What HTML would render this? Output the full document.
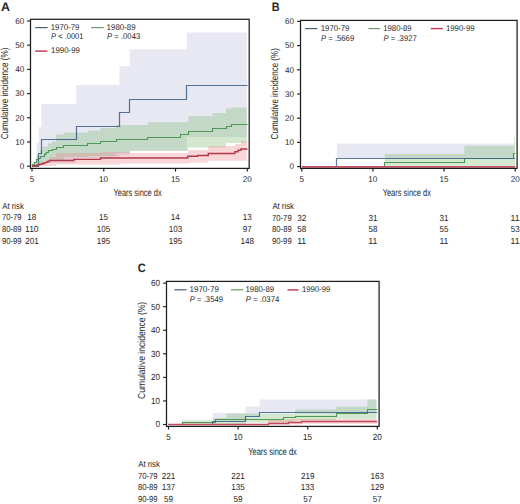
<!DOCTYPE html>
<html><head><meta charset="utf-8"><title>Cumulative incidence</title>
<style>html,body{margin:0;padding:0;background:#fff;overflow:hidden;}svg{display:block;}</style>
</head><body>
<svg width="520" height="504" viewBox="0 0 520 504" text-rendering="geometricPrecision" font-family='"Liberation Sans", sans-serif' fill="#262626">
<rect width="520" height="504" fill="#ffffff"/>
<path d="M32.00 166.10H36.50V143.00H38.70V127.00H41.40V104.10H76.40V85.00H119.50V66.20H129.70V49.20H186.80V32.50H246.80V137.00H186.80V150.50H129.70V155.00H119.50V158.00H76.40V163.00H41.30V166.10H32.00Z" fill="rgb(232,232,243)"/>
<path d="M32.00 166.00H33.50V162.00H36.50V155.00H40.00V150.00H42.70V146.50H48.00V143.50H52.00V141.50H56.00V134.50H64.00V132.60H88.00V130.60H100.50V127.90H116.30V125.00H147.70V122.20H188.50V116.00H212.50V113.00H226.00V108.50H231.60V107.50H246.80V143.00H226.00V147.50H188.00V151.00H130.00V153.00H116.00V156.00H88.00V157.00H64.00V160.50H50.00V163.00H41.00V164.50H36.00V166.00H32.00Z" fill="rgb(121,184,108)" fill-opacity="0.33"/>
<path d="M32.00 166.00H36.00V164.00H40.00V162.00H46.00V160.00H49.30V157.00H56.00V153.00H100.50V152.00H130.00V153.00H188.00V150.00H208.30V146.00H235.00V144.00H241.00V141.00H246.80V160.80H208.30V162.50H190.00V163.50H120.00V164.50H56.00V166.00H32.00Z" fill="rgb(237,130,135)" fill-opacity="0.33"/>
<path d="M32.00 166.50H32.50V164.50H34.50V162.50H36.50V159.50H38.50V158.50H40.50V156.50H42.50V156.50H44.50V154.50H45.50V153.50H46.50V152.50H48.50V150.50H52.50V149.50H56.50V147.50H63.50V145.50H87.50V143.50H100.50V141.50H116.50V139.50H147.50V137.50H180.50V134.50H188.50V131.50H212.50V128.50H226.50V126.50H231.50V124.50H247.50" fill="none" stroke="rgb(80,152,86)" stroke-width="1.15"/>
<path d="M32.00 166.50H38.50V153.50H41.50V139.50H76.50V126.50H119.50V112.50H129.50V99.50H186.50V85.50H247.50" fill="none" stroke="rgb(48,80,128)" stroke-width="1.2" stroke-opacity="0.8"/>
<path d="M32.00 166.10H34.00V165.70H36.50V165.00H39.00V164.40H42.00V163.50H44.50V162.60H47.00V161.60H49.30V160.50H73.70V159.40H100.50V158.00H187.70V156.20H197.50V155.50H208.30V153.50H234.80V151.70H238.00V150.20H241.00V149.00H247.50" fill="none" stroke="rgb(176,58,72)" stroke-width="1.4"/>
<rect x="30.5" y="19.3" width="218.7" height="149.1" fill="none" stroke="#1e1e1e" stroke-width="1.25"/>
<line x1="27.10" y1="166.20" x2="30.5" y2="166.20" stroke="#1e1e1e" stroke-width="1.15"/>
<text x="19.71" y="168.95" font-size="8.4" textLength="4.50" lengthAdjust="spacingAndGlyphs">0</text>
<line x1="27.10" y1="142.00" x2="30.5" y2="142.00" stroke="#1e1e1e" stroke-width="1.15"/>
<text x="15.21" y="144.75" font-size="8.4" textLength="9.01" lengthAdjust="spacingAndGlyphs">10</text>
<line x1="27.10" y1="117.80" x2="30.5" y2="117.80" stroke="#1e1e1e" stroke-width="1.15"/>
<text x="15.21" y="120.55" font-size="8.4" textLength="9.01" lengthAdjust="spacingAndGlyphs">20</text>
<line x1="27.10" y1="93.60" x2="30.5" y2="93.60" stroke="#1e1e1e" stroke-width="1.15"/>
<text x="15.21" y="96.35" font-size="8.4" textLength="9.01" lengthAdjust="spacingAndGlyphs">30</text>
<line x1="27.10" y1="69.40" x2="30.5" y2="69.40" stroke="#1e1e1e" stroke-width="1.15"/>
<text x="15.21" y="72.15" font-size="8.4" textLength="9.01" lengthAdjust="spacingAndGlyphs">40</text>
<line x1="27.10" y1="45.20" x2="30.5" y2="45.20" stroke="#1e1e1e" stroke-width="1.15"/>
<text x="15.21" y="47.95" font-size="8.4" textLength="9.01" lengthAdjust="spacingAndGlyphs">50</text>
<line x1="27.10" y1="21.00" x2="30.5" y2="21.00" stroke="#1e1e1e" stroke-width="1.15"/>
<text x="15.21" y="23.75" font-size="8.4" textLength="9.01" lengthAdjust="spacingAndGlyphs">60</text>
<line x1="32.00" y1="168.4" x2="32.00" y2="171.60" stroke="#1e1e1e" stroke-width="1.15"/>
<text x="29.76" y="181.70" font-size="8.4" textLength="4.50" lengthAdjust="spacingAndGlyphs">5</text>
<line x1="103.77" y1="168.4" x2="103.77" y2="171.60" stroke="#1e1e1e" stroke-width="1.15"/>
<text x="99.11" y="181.70" font-size="8.4" textLength="9.01" lengthAdjust="spacingAndGlyphs">10</text>
<line x1="175.53" y1="168.4" x2="175.53" y2="171.60" stroke="#1e1e1e" stroke-width="1.15"/>
<text x="170.89" y="181.70" font-size="8.4" textLength="9.01" lengthAdjust="spacingAndGlyphs">15</text>
<line x1="247.30" y1="168.4" x2="247.30" y2="171.60" stroke="#1e1e1e" stroke-width="1.15"/>
<text x="242.75" y="181.70" font-size="8.4" textLength="9.01" lengthAdjust="spacingAndGlyphs">20</text>
<text x="113.44" y="195.90" font-size="10.2" textLength="48.24" lengthAdjust="spacingAndGlyphs">Years since dx</text>
<text transform="rotate(-90)" x="-139.31" y="8.40" font-size="10.2" textLength="91.71" lengthAdjust="spacingAndGlyphs">Cumulative incidence (%)</text>
<text x="1.14" y="10.65" font-size="12.2" font-weight="bold" textLength="8.99" lengthAdjust="spacingAndGlyphs">A</text>
<line x1="35.2" y1="27.6" x2="47.6" y2="27.6" stroke="#4a5a7a" stroke-width="1.2"/>
<line x1="91.2" y1="27.6" x2="103.8" y2="27.6" stroke="#6a9a6a" stroke-width="1.2"/>
<line x1="35.2" y1="51.1" x2="47.4" y2="51.1" stroke="#c0405a" stroke-width="1.5"/>
<text x="50.70" y="29.70" font-size="8.4" textLength="28.77" lengthAdjust="spacingAndGlyphs">1970-79</text>
<text x="51.07" y="39.10" font-size="8.4" textLength="32.40" lengthAdjust="spacingAndGlyphs"><tspan font-style="italic">P</tspan> &lt; .0001</text>
<text x="106.60" y="29.70" font-size="8.4" textLength="29.08" lengthAdjust="spacingAndGlyphs">1980-89</text>
<text x="106.96" y="39.10" font-size="8.4" textLength="33.28" lengthAdjust="spacingAndGlyphs"><tspan font-style="italic">P</tspan> = .0043</text>
<text x="51.10" y="53.10" font-size="8.4" textLength="28.77" lengthAdjust="spacingAndGlyphs">1990-99</text>
<text x="2.28" y="208.90" font-size="8.8" textLength="21.50" lengthAdjust="spacingAndGlyphs">At risk</text>
<text x="1.91" y="220.30" font-size="8.8" textLength="19.66" lengthAdjust="spacingAndGlyphs">70-79</text>
<text x="27.36" y="220.30" font-size="8.8" textLength="9.01" lengthAdjust="spacingAndGlyphs">18</text>
<text x="99.12" y="220.30" font-size="8.8" textLength="9.01" lengthAdjust="spacingAndGlyphs">15</text>
<text x="170.84" y="220.30" font-size="8.8" textLength="9.01" lengthAdjust="spacingAndGlyphs">14</text>
<text x="242.66" y="220.30" font-size="8.8" textLength="9.01" lengthAdjust="spacingAndGlyphs">13</text>
<text x="1.97" y="231.70" font-size="8.8" textLength="19.60" lengthAdjust="spacingAndGlyphs">80-89</text>
<text x="25.09" y="231.70" font-size="8.8" textLength="13.51" lengthAdjust="spacingAndGlyphs">110</text>
<text x="96.87" y="231.70" font-size="8.8" textLength="13.51" lengthAdjust="spacingAndGlyphs">105</text>
<text x="168.65" y="231.70" font-size="8.8" textLength="13.51" lengthAdjust="spacingAndGlyphs">103</text>
<text x="242.81" y="231.70" font-size="8.8" textLength="9.01" lengthAdjust="spacingAndGlyphs">97</text>
<text x="1.94" y="244.20" font-size="8.8" textLength="19.62" lengthAdjust="spacingAndGlyphs">90-99</text>
<text x="25.24" y="244.20" font-size="8.8" textLength="13.51" lengthAdjust="spacingAndGlyphs">201</text>
<text x="96.87" y="244.20" font-size="8.8" textLength="13.51" lengthAdjust="spacingAndGlyphs">195</text>
<text x="168.64" y="244.20" font-size="8.8" textLength="13.51" lengthAdjust="spacingAndGlyphs">195</text>
<text x="240.41" y="244.20" font-size="8.8" textLength="13.51" lengthAdjust="spacingAndGlyphs">148</text>
<path d="M336.80 143.60H514.30V158.80H336.80Z" fill="rgb(232,232,243)"/>
<path d="M384.80 153.90H464.20V145.80H514.00V137.00H515.00V165.80H384.80Z" fill="rgb(121,184,108)" fill-opacity="0.33"/>
<path d="M301.80 166.50H384.50V162.50H464.50V158.50H513.50V153.50H515.20" fill="none" stroke="rgb(80,152,86)" stroke-width="1.15"/>
<path d="M301.80 166.50H336.50V158.50H515.20" fill="none" stroke="rgb(52,92,142)" stroke-width="1.2" stroke-opacity="0.8"/>
<path d="M302.00 166.90H515.20" fill="none" stroke="rgb(196,78,98)" stroke-width="1.6"/>
<rect x="300.5" y="20.4" width="216.60000000000002" height="148.0" fill="none" stroke="#1e1e1e" stroke-width="1.25"/>
<line x1="297.10" y1="166.60" x2="300.5" y2="166.60" stroke="#1e1e1e" stroke-width="1.15"/>
<text x="289.61" y="169.35" font-size="8.4" textLength="4.50" lengthAdjust="spacingAndGlyphs">0</text>
<line x1="297.10" y1="142.40" x2="300.5" y2="142.40" stroke="#1e1e1e" stroke-width="1.15"/>
<text x="285.11" y="145.15" font-size="8.4" textLength="9.01" lengthAdjust="spacingAndGlyphs">10</text>
<line x1="297.10" y1="118.20" x2="300.5" y2="118.20" stroke="#1e1e1e" stroke-width="1.15"/>
<text x="285.11" y="120.95" font-size="8.4" textLength="9.01" lengthAdjust="spacingAndGlyphs">20</text>
<line x1="297.10" y1="94.00" x2="300.5" y2="94.00" stroke="#1e1e1e" stroke-width="1.15"/>
<text x="285.11" y="96.75" font-size="8.4" textLength="9.01" lengthAdjust="spacingAndGlyphs">30</text>
<line x1="297.10" y1="69.80" x2="300.5" y2="69.80" stroke="#1e1e1e" stroke-width="1.15"/>
<text x="285.11" y="72.55" font-size="8.4" textLength="9.01" lengthAdjust="spacingAndGlyphs">40</text>
<line x1="297.10" y1="45.60" x2="300.5" y2="45.60" stroke="#1e1e1e" stroke-width="1.15"/>
<text x="285.11" y="48.35" font-size="8.4" textLength="9.01" lengthAdjust="spacingAndGlyphs">50</text>
<line x1="297.10" y1="21.40" x2="300.5" y2="21.40" stroke="#1e1e1e" stroke-width="1.15"/>
<text x="285.11" y="24.15" font-size="8.4" textLength="9.01" lengthAdjust="spacingAndGlyphs">60</text>
<line x1="301.80" y1="168.4" x2="301.80" y2="171.60" stroke="#1e1e1e" stroke-width="1.15"/>
<text x="299.56" y="181.90" font-size="8.4" textLength="4.50" lengthAdjust="spacingAndGlyphs">5</text>
<line x1="372.93" y1="168.4" x2="372.93" y2="171.60" stroke="#1e1e1e" stroke-width="1.15"/>
<text x="368.28" y="181.90" font-size="8.4" textLength="9.01" lengthAdjust="spacingAndGlyphs">10</text>
<line x1="444.07" y1="168.4" x2="444.07" y2="171.60" stroke="#1e1e1e" stroke-width="1.15"/>
<text x="439.42" y="181.90" font-size="8.4" textLength="9.01" lengthAdjust="spacingAndGlyphs">15</text>
<line x1="515.20" y1="168.4" x2="515.20" y2="171.60" stroke="#1e1e1e" stroke-width="1.15"/>
<text x="510.65" y="181.90" font-size="8.4" textLength="9.01" lengthAdjust="spacingAndGlyphs">20</text>
<text x="382.64" y="196.00" font-size="10.2" textLength="48.24" lengthAdjust="spacingAndGlyphs">Years since dx</text>
<text transform="rotate(-90)" x="-139.41" y="278.40" font-size="10.2" textLength="91.31" lengthAdjust="spacingAndGlyphs">Cumulative incidence (%)</text>
<text x="271.78" y="10.75" font-size="12.2" font-weight="bold" textLength="7.82" lengthAdjust="spacingAndGlyphs">B</text>
<line x1="305.2" y1="28.6" x2="317.4" y2="28.6" stroke="#4a5a7a" stroke-width="1.2"/>
<line x1="368.5" y1="28.6" x2="380.0" y2="28.6" stroke="#6a9a6a" stroke-width="1.2"/>
<line x1="430.8" y1="28.6" x2="442.8" y2="28.6" stroke="#c0405a" stroke-width="1.5"/>
<text x="320.71" y="30.70" font-size="8.4" textLength="28.66" lengthAdjust="spacingAndGlyphs">1970-79</text>
<text x="321.06" y="40.90" font-size="8.4" textLength="33.10" lengthAdjust="spacingAndGlyphs"><tspan font-style="italic">P</tspan> = .5669</text>
<text x="383.21" y="30.70" font-size="8.4" textLength="28.46" lengthAdjust="spacingAndGlyphs">1980-89</text>
<text x="383.56" y="40.90" font-size="8.4" textLength="33.22" lengthAdjust="spacingAndGlyphs"><tspan font-style="italic">P</tspan> = .3927</text>
<text x="445.90" y="30.90" font-size="8.4" textLength="28.77" lengthAdjust="spacingAndGlyphs">1990-99</text>
<text x="272.38" y="209.00" font-size="8.8" textLength="21.50" lengthAdjust="spacingAndGlyphs">At risk</text>
<text x="272.01" y="220.50" font-size="8.8" textLength="19.66" lengthAdjust="spacingAndGlyphs">70-79</text>
<text x="297.34" y="220.50" font-size="8.8" textLength="9.01" lengthAdjust="spacingAndGlyphs">32</text>
<text x="368.47" y="220.50" font-size="8.8" textLength="9.01" lengthAdjust="spacingAndGlyphs">31</text>
<text x="439.61" y="220.50" font-size="8.8" textLength="9.01" lengthAdjust="spacingAndGlyphs">31</text>
<text x="510.58" y="220.50" font-size="8.8" textLength="9.01" lengthAdjust="spacingAndGlyphs">11</text>
<text x="272.07" y="231.80" font-size="8.8" textLength="19.60" lengthAdjust="spacingAndGlyphs">80-89</text>
<text x="297.31" y="231.80" font-size="8.8" textLength="9.01" lengthAdjust="spacingAndGlyphs">58</text>
<text x="368.44" y="231.80" font-size="8.8" textLength="9.01" lengthAdjust="spacingAndGlyphs">58</text>
<text x="439.57" y="231.80" font-size="8.8" textLength="9.01" lengthAdjust="spacingAndGlyphs">55</text>
<text x="510.71" y="231.80" font-size="8.8" textLength="9.01" lengthAdjust="spacingAndGlyphs">53</text>
<text x="272.04" y="243.60" font-size="8.8" textLength="19.62" lengthAdjust="spacingAndGlyphs">90-99</text>
<text x="297.18" y="243.60" font-size="8.8" textLength="9.01" lengthAdjust="spacingAndGlyphs">11</text>
<text x="368.32" y="243.60" font-size="8.8" textLength="9.01" lengthAdjust="spacingAndGlyphs">11</text>
<text x="439.45" y="243.60" font-size="8.8" textLength="9.01" lengthAdjust="spacingAndGlyphs">11</text>
<text x="510.58" y="243.60" font-size="8.8" textLength="9.01" lengthAdjust="spacingAndGlyphs">11</text>
<path d="M212.50 412.90H245.60V406.50H259.50V399.50H376.50V412.60H259.60V416.60H245.60V421.30H212.50Z" fill="rgb(232,232,243)"/>
<path d="M182.30 420.30H213.00V418.00H226.50V413.50H295.00V409.40H336.00V406.80H367.50V399.40H376.50V418.80H336.00V420.00H295.00V422.50H246.00V424.40H182.30Z" fill="rgb(121,184,108)" fill-opacity="0.33"/>
<path d="M268.00 419.80H289.00V419.00H301.90V419.00H376.50V423.80H301.90V424.60H268.00Z" fill="rgb(237,130,135)" fill-opacity="0.33"/>
<path d="M168.50 424.50H182.50V422.50H215.50V419.50H283.50V417.50H295.50V416.50H336.50V413.50H367.50V409.50H377.30" fill="none" stroke="rgb(80,152,86)" stroke-width="1.15"/>
<path d="M168.50 424.50H212.50V421.50H245.50V416.50H259.50V412.50H377.30" fill="none" stroke="rgb(44,84,134)" stroke-width="1.2" stroke-opacity="0.8"/>
<path d="M168.50 424.50H268.50V423.50H288.50V422.50H301.50V421.50H377.30" fill="none" stroke="rgb(192,70,90)" stroke-width="1.3"/>
<rect x="166.5" y="281.4" width="212.60000000000002" height="145.0" fill="none" stroke="#1e1e1e" stroke-width="1.25"/>
<line x1="163.10" y1="424.50" x2="166.5" y2="424.50" stroke="#1e1e1e" stroke-width="1.15"/>
<text x="155.41" y="427.45" font-size="8.9" textLength="4.50" lengthAdjust="spacingAndGlyphs">0</text>
<line x1="163.10" y1="400.93" x2="166.5" y2="400.93" stroke="#1e1e1e" stroke-width="1.15"/>
<text x="150.91" y="403.88" font-size="8.9" textLength="9.01" lengthAdjust="spacingAndGlyphs">10</text>
<line x1="163.10" y1="377.37" x2="166.5" y2="377.37" stroke="#1e1e1e" stroke-width="1.15"/>
<text x="150.91" y="380.32" font-size="8.9" textLength="9.01" lengthAdjust="spacingAndGlyphs">20</text>
<line x1="163.10" y1="353.80" x2="166.5" y2="353.80" stroke="#1e1e1e" stroke-width="1.15"/>
<text x="150.91" y="356.75" font-size="8.9" textLength="9.01" lengthAdjust="spacingAndGlyphs">30</text>
<line x1="163.10" y1="330.23" x2="166.5" y2="330.23" stroke="#1e1e1e" stroke-width="1.15"/>
<text x="150.91" y="333.18" font-size="8.9" textLength="9.01" lengthAdjust="spacingAndGlyphs">40</text>
<line x1="163.10" y1="306.67" x2="166.5" y2="306.67" stroke="#1e1e1e" stroke-width="1.15"/>
<text x="150.91" y="309.62" font-size="8.9" textLength="9.01" lengthAdjust="spacingAndGlyphs">50</text>
<line x1="163.10" y1="283.10" x2="166.5" y2="283.10" stroke="#1e1e1e" stroke-width="1.15"/>
<text x="150.91" y="286.05" font-size="8.9" textLength="9.01" lengthAdjust="spacingAndGlyphs">60</text>
<line x1="168.50" y1="426.4" x2="168.50" y2="429.60" stroke="#1e1e1e" stroke-width="1.15"/>
<text x="166.26" y="439.70" font-size="8.9" textLength="4.50" lengthAdjust="spacingAndGlyphs">5</text>
<line x1="238.10" y1="426.4" x2="238.10" y2="429.60" stroke="#1e1e1e" stroke-width="1.15"/>
<text x="233.44" y="439.70" font-size="8.9" textLength="9.01" lengthAdjust="spacingAndGlyphs">10</text>
<line x1="307.70" y1="426.4" x2="307.70" y2="429.60" stroke="#1e1e1e" stroke-width="1.15"/>
<text x="303.06" y="439.70" font-size="8.9" textLength="9.01" lengthAdjust="spacingAndGlyphs">15</text>
<line x1="377.30" y1="426.4" x2="377.30" y2="429.60" stroke="#1e1e1e" stroke-width="1.15"/>
<text x="372.75" y="439.70" font-size="8.9" textLength="9.01" lengthAdjust="spacingAndGlyphs">20</text>
<text x="248.14" y="455.00" font-size="10.2" textLength="48.74" lengthAdjust="spacingAndGlyphs">Years since dx</text>
<text transform="rotate(-90)" x="-398.94" y="145.00" font-size="10.2" textLength="97.17" lengthAdjust="spacingAndGlyphs">Cumulative incidence (%)</text>
<text x="137.65" y="272.00" font-size="12.2" font-weight="bold" textLength="7.95" lengthAdjust="spacingAndGlyphs">C</text>
<line x1="174.4" y1="289.8" x2="186.5" y2="289.8" stroke="#4a5a7a" stroke-width="1.2"/>
<line x1="231.0" y1="289.8" x2="243.1" y2="289.8" stroke="#6a9a6a" stroke-width="1.2"/>
<line x1="287.5" y1="289.9" x2="298.5" y2="289.9" stroke="#c0405a" stroke-width="1.5"/>
<text x="189.49" y="292.20" font-size="8.4" textLength="29.39" lengthAdjust="spacingAndGlyphs">1970-79</text>
<text x="189.86" y="302.00" font-size="8.4" textLength="33.10" lengthAdjust="spacingAndGlyphs"><tspan font-style="italic">P</tspan> = .3549</text>
<text x="245.51" y="292.20" font-size="8.4" textLength="28.56" lengthAdjust="spacingAndGlyphs">1980-89</text>
<text x="245.86" y="302.00" font-size="8.4" textLength="33.47" lengthAdjust="spacingAndGlyphs"><tspan font-style="italic">P</tspan> = .0374</text>
<text x="302.01" y="292.00" font-size="8.4" textLength="28.25" lengthAdjust="spacingAndGlyphs">1990-99</text>
<text x="138.28" y="466.70" font-size="8.8" textLength="21.50" lengthAdjust="spacingAndGlyphs">At risk</text>
<text x="137.91" y="478.50" font-size="8.8" textLength="19.66" lengthAdjust="spacingAndGlyphs">70-79</text>
<text x="161.74" y="478.50" font-size="8.8" textLength="13.51" lengthAdjust="spacingAndGlyphs">221</text>
<text x="231.34" y="478.50" font-size="8.8" textLength="13.51" lengthAdjust="spacingAndGlyphs">221</text>
<text x="300.93" y="478.50" font-size="8.8" textLength="13.51" lengthAdjust="spacingAndGlyphs">219</text>
<text x="370.41" y="478.50" font-size="8.8" textLength="13.51" lengthAdjust="spacingAndGlyphs">163</text>
<text x="137.97" y="490.00" font-size="8.8" textLength="19.60" lengthAdjust="spacingAndGlyphs">80-89</text>
<text x="161.64" y="490.00" font-size="8.8" textLength="13.51" lengthAdjust="spacingAndGlyphs">137</text>
<text x="231.20" y="490.00" font-size="8.8" textLength="13.51" lengthAdjust="spacingAndGlyphs">135</text>
<text x="300.81" y="490.00" font-size="8.8" textLength="13.51" lengthAdjust="spacingAndGlyphs">133</text>
<text x="370.43" y="490.00" font-size="8.8" textLength="13.51" lengthAdjust="spacingAndGlyphs">129</text>
<text x="137.94" y="501.60" font-size="8.8" textLength="19.62" lengthAdjust="spacingAndGlyphs">90-99</text>
<text x="164.02" y="501.60" font-size="8.8" textLength="9.01" lengthAdjust="spacingAndGlyphs">59</text>
<text x="233.62" y="501.60" font-size="8.8" textLength="9.01" lengthAdjust="spacingAndGlyphs">59</text>
<text x="303.24" y="501.60" font-size="8.8" textLength="9.01" lengthAdjust="spacingAndGlyphs">57</text>
<text x="372.84" y="501.60" font-size="8.8" textLength="9.01" lengthAdjust="spacingAndGlyphs">57</text>
</svg>
</body></html>
